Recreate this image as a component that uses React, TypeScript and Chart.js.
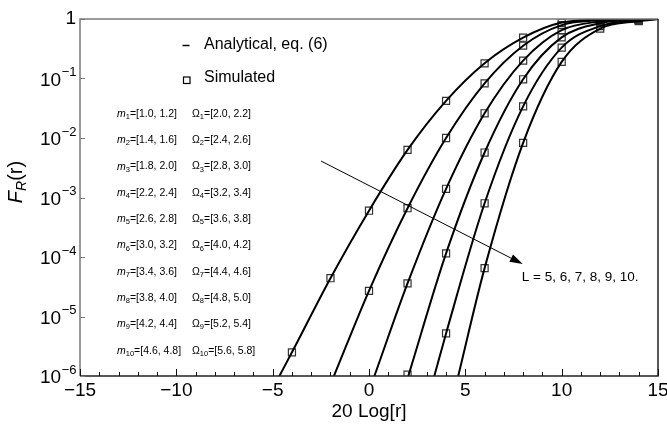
import React, { useEffect, useRef } from "react";
import { Chart, registerables } from "chart.js";

Chart.register(...registerables);

const FONT = "'Liberation Sans', Arial, Helvetica, sans-serif";

// ---- data ----
// analytical curves (x = 20 Log[r], y = F_R(r))
const curve1X = [-4.65, -4, -2, 0, 2, 4, 6, 8, 10, 12, 14, 15];
const curve1Y = [1e-6, 2.5e-6, 4.4e-5, 6e-4, 6.3e-3, 0.042, 0.18, 0.485, 0.87, 0.975, 0.998, 1];
const curve2X = [-1.82, 0, 2, 4, 6, 8, 10, 12, 14, 15];
const curve2Y = [1e-6, 2.7e-5, 6.6e-4, 0.01, 0.083, 0.356, 0.79, 0.95, 0.995, 1];
const curve3X = [0.28, 2, 4, 6, 8, 10, 12, 14, 15];
const curve3Y = [1e-6, 3.6e-5, 1.4e-3, 0.026, 0.2, 0.65, 0.91, 0.99, 1];
const curve4X = [2.04, 4, 6, 8, 10, 12, 14, 15];
const curve4Y = [1e-6, 1.15e-4, 5.7e-3, 0.097, 0.49, 0.85, 0.975, 1];
const curve5X = [3.39, 4, 6, 8, 10, 12, 14, 15];
const curve5Y = [1e-6, 5.2e-6, 8e-4, 0.034, 0.33, 0.76, 0.955, 1];
const curve6X = [4.63, 6, 8, 10, 12, 14, 15];
const curve6Y = [1e-6, 6.5e-5, 8.3e-3, 0.19, 0.69, 0.92, 1];

// simulated markers
const sim1X = [-4, -2, 0, 2, 4, 6, 8, 10, 12, 14];
const sim1Y = [2.5e-6, 4.4e-5, 6e-4, 6.3e-3, 0.042, 0.18, 0.485, 0.87, 0.975, 0.998];
const sim2X = [0, 2, 4, 6, 8, 10, 12, 14];
const sim2Y = [2.7e-5, 6.6e-4, 0.01, 0.083, 0.356, 0.79, 0.95, 0.995];
const sim3X = [2, 4, 6, 8, 10, 12, 14];
const sim3Y = [3.6e-5, 1.4e-3, 0.026, 0.2, 0.65, 0.91, 0.99];
const sim4X = [2, 4, 6, 8, 10, 12, 14];
const sim4Y = [1.05e-6, 1.15e-4, 5.7e-3, 0.097, 0.49, 0.85, 0.975];
const sim5X = [4, 6, 8, 10, 12, 14];
const sim5Y = [5.2e-6, 8e-4, 0.034, 0.33, 0.76, 0.955];
const sim6X = [6, 8, 10, 12, 14];
const sim6Y = [6.5e-5, 8.3e-3, 0.19, 0.69, 0.92];

// parameter table
const mLow = [1.0, 1.4, 1.8, 2.2, 2.6, 3.0, 3.4, 3.8, 4.2, 4.6];
const mHigh = [1.2, 1.6, 2.0, 2.4, 2.8, 3.2, 3.6, 4.0, 4.4, 4.8];
const omegaLow = [2.0, 2.4, 2.8, 3.2, 3.6, 4.0, 4.4, 4.8, 5.2, 5.6];
const omegaHigh = [2.2, 2.6, 3.0, 3.4, 3.8, 4.2, 4.6, 5.0, 5.4, 5.8];

// ticks
const xTickLabels = [-15, -10, -5, 0, 5, 10, 15];
const yTickExps = [0, -1, -2, -3, -4, -5, -6];

// arrow annotation (data coords)
const arrowFrom = { x: -2.49, y: 4.1e-3 };
const arrowTo = { x: 7.98, y: 7.6e-5 };
const arrowLabel = "L = 5, 6, 7, 8, 9, 10.";

const zip = (xs: number[], ys: number[]) => xs.map((x, i) => ({ x, y: ys[i] }));

const lineSets = [
  zip(curve1X, curve1Y),
  zip(curve2X, curve2Y),
  zip(curve3X, curve3Y),
  zip(curve4X, curve4Y),
  zip(curve5X, curve5Y),
  zip(curve6X, curve6Y),
];
const simSets = [
  zip(sim1X, sim1Y),
  zip(sim2X, sim2Y),
  zip(sim3X, sim3Y),
  zip(sim4X, sim4Y),
  zip(sim5X, sim5Y),
  zip(sim6X, sim6Y),
];

const overlay = {
  id: "overlay",
  afterDatasetsDraw(chart: any) {
    const { ctx, chartArea: a, scales } = chart;
    const xs = scales.x;
    const ys = scales.y;
    ctx.save();

    // arrow
    const x0 = xs.getPixelForValue(arrowFrom.x);
    const y0 = ys.getPixelForValue(arrowFrom.y);
    const x1 = xs.getPixelForValue(arrowTo.x);
    const y1 = ys.getPixelForValue(arrowTo.y);
    const ang = Math.atan2(y1 - y0, x1 - x0);
    const hl = 13, hw = 4;
    ctx.strokeStyle = "#000";
    ctx.lineWidth = 1;
    ctx.beginPath();
    ctx.moveTo(x0, y0);
    ctx.lineTo(x1 - hl * Math.cos(ang), y1 - hl * Math.sin(ang));
    ctx.stroke();
    ctx.fillStyle = "#000";
    ctx.beginPath();
    ctx.moveTo(x1, y1);
    ctx.lineTo(x1 - hl * Math.cos(ang) + hw * Math.sin(ang), y1 - hl * Math.sin(ang) - hw * Math.cos(ang));
    ctx.lineTo(x1 - hl * Math.cos(ang) - hw * Math.sin(ang), y1 - hl * Math.sin(ang) + hw * Math.cos(ang));
    ctx.closePath();
    ctx.fill();

    ctx.font = `13.5px ${FONT}`;
    ctx.textAlign = "left";
    ctx.textBaseline = "middle";
    ctx.fillText(arrowLabel, x1 - 1, y1 + 13.5);

    // borders
    ctx.lineWidth = 1.5;
    ctx.strokeStyle = "#7a7a7a";
    ctx.beginPath();
    ctx.moveTo(a.left, a.bottom);
    ctx.lineTo(a.left, a.top);
    ctx.lineTo(a.right, a.top);
    ctx.stroke();
    ctx.strokeStyle = "#222";
    ctx.beginPath();
    ctx.moveTo(a.left, a.bottom);
    ctx.lineTo(a.right, a.bottom);
    ctx.lineTo(a.right, a.top);
    ctx.stroke();

    // x ticks
    ctx.lineWidth = 1;
    ctx.strokeStyle = "#111";
    for (let v = -15; v <= 15; v++) {
      const px = Math.round(xs.getPixelForValue(v)) + 0.5;
      const len = v % 5 === 0 ? 7 : 4;
      ctx.beginPath();
      ctx.moveTo(px, a.bottom);
      ctx.lineTo(px, a.bottom - len);
      ctx.stroke();
    }
    // y ticks
    ctx.strokeStyle = "#7a7a7a";
    yTickExps.forEach((e) => {
      const py = Math.round(ys.getPixelForValue(Math.pow(10, e))) + 0.5;
      ctx.beginPath();
      ctx.moveTo(a.left, py);
      ctx.lineTo(a.left + 5, py);
      ctx.stroke();
    });

    // x tick labels
    ctx.fillStyle = "#000";
    ctx.font = `19px ${FONT}`;
    ctx.textAlign = "center";
    ctx.textBaseline = "middle";
    xTickLabels.forEach((v) => {
      const px = xs.getPixelForValue(v);
      const s = v < 0 ? "\u2212" + Math.abs(v) : String(v);
      ctx.fillText(s, px, a.bottom + 15);
    });

    // y tick labels
    const rightX = a.left - 4;
    yTickExps.forEach((e) => {
      const py = ys.getPixelForValue(Math.pow(10, e));
      ctx.textBaseline = "middle";
      ctx.textAlign = "left";
      if (e === 0) {
        ctx.font = `19px ${FONT}`;
        const w = ctx.measureText("1").width;
        ctx.fillText("1", rightX - w, py);
      } else {
        ctx.font = `19px ${FONT}`;
        const wb = ctx.measureText("10").width;
        ctx.font = `13px ${FONT}`;
        const sup = "\u2212" + Math.abs(e);
        const ws = ctx.measureText(sup).width;
        const sx = rightX - wb - ws;
        ctx.font = `19px ${FONT}`;
        ctx.fillText("10", sx, py + 2);
        ctx.font = `13px ${FONT}`;
        ctx.fillText(sup, sx + wb + 0.5, py - 6);
      }
    });

    // axis titles
    ctx.font = `19px ${FONT}`;
    ctx.textAlign = "center";
    ctx.textBaseline = "middle";
    ctx.fillText("20 Log[r]", (a.left + a.right) / 2, 412);

    ctx.save();
    ctx.translate(22, 182);
    ctx.rotate(-Math.PI / 2);
    ctx.textBaseline = "alphabetic";
    ctx.textAlign = "left";
    ctx.font = `italic 20px ${FONT}`;
    const wF = ctx.measureText("F").width;
    ctx.font = `italic 14px ${FONT}`;
    const wR = ctx.measureText("R").width;
    ctx.font = `20px ${FONT}`;
    const wr = ctx.measureText("(r)").width;
    let cx = -(wF + wR + wr) / 2;
    ctx.font = `italic 20px ${FONT}`;
    ctx.fillText("F", cx, 0);
    cx += wF;
    ctx.font = `italic 14px ${FONT}`;
    ctx.fillText("R", cx, 4);
    cx += wR;
    ctx.font = `20px ${FONT}`;
    ctx.fillText("(r)", cx, 0);
    ctx.restore();

    // legend
    ctx.strokeStyle = "#000";
    ctx.lineWidth = 1.5;
    ctx.beginPath();
    ctx.moveTo(182.5, 45.5);
    ctx.lineTo(189.5, 45.5);
    ctx.stroke();
    ctx.lineWidth = 1.2;
    ctx.strokeRect(183.5, 77, 6.5, 6.5);
    ctx.font = `16px ${FONT}`;
    ctx.textAlign = "left";
    ctx.textBaseline = "middle";
    ctx.fillText("Analytical, eq. (6)", 204, 45);
    ctx.fillText("Simulated", 204, 78);

    // parameter table
    for (let i = 0; i < mLow.length; i++) {
      const ry = 114 + i * 26.3;
      const sub = String(i + 1);
      ctx.textBaseline = "middle";
      let tx = 117;
      ctx.font = `italic 10.5px ${FONT}`;
      ctx.fillText("m", tx, ry);
      tx += ctx.measureText("m").width;
      ctx.font = `7.5px ${FONT}`;
      ctx.fillText(sub, tx, ry + 3);
      tx += ctx.measureText(sub).width;
      ctx.font = `10.5px ${FONT}`;
      ctx.fillText(`=[${mLow[i].toFixed(1)}, ${mHigh[i].toFixed(1)}]`, tx, ry);

      tx = 192;
      ctx.font = `10.5px ${FONT}`;
      ctx.fillText("\u03A9", tx, ry);
      tx += ctx.measureText("\u03A9").width;
      ctx.font = `7.5px ${FONT}`;
      ctx.fillText(sub, tx, ry + 3);
      tx += ctx.measureText(sub).width;
      ctx.font = `10.5px ${FONT}`;
      ctx.fillText(`=[${omegaLow[i].toFixed(1)}, ${omegaHigh[i].toFixed(1)}]`, tx, ry);
    }

    ctx.restore();
  },
};

export default function App() {
  const ref = useRef<HTMLCanvasElement | null>(null);
  useEffect(() => {
    if (!ref.current) return;
    const datasets: any[] = [];
    lineSets.forEach((d, i) => {
      datasets.push({
        label: `Analytical ${i + 1}`,
        data: d,
        showLine: true,
        borderColor: "#000",
        borderWidth: 2,
        pointRadius: 0,
        cubicInterpolationMode: "monotone",
        fill: false,
      });
    });
    simSets.forEach((d, i) => {
      datasets.push({
        label: `Simulated ${i + 1}`,
        data: d,
        showLine: false,
        pointStyle: "rect",
        pointRadius: 5,
        pointBorderWidth: 1.2,
        pointBorderColor: "#333",
        pointBackgroundColor: "rgba(0,0,0,0)",
        borderColor: "#333",
        backgroundColor: "rgba(0,0,0,0)",
      });
    });
    const chart = new Chart(ref.current, {
      type: "scatter",
      data: { datasets },
      options: {
        animation: false,
        responsive: false,
        layout: { padding: { left: 80, right: 9, top: 19, bottom: 58 } },
        plugins: { legend: { display: false }, tooltip: { enabled: false } },
        scales: {
          x: { type: "linear", min: -15, max: 15, display: false },
          y: { type: "logarithmic", min: 1e-6, max: 1, display: false },
        },
      },
      plugins: [overlay],
    } as any);
    return () => chart.destroy();
  }, []);
  return (
    <div style={{ position: "fixed", left: 0, top: 0, width: 667, height: 434, background: "#fff" }}>
      <canvas ref={ref} width={667} height={434} style={{ display: "block" }} />
    </div>
  );
}
